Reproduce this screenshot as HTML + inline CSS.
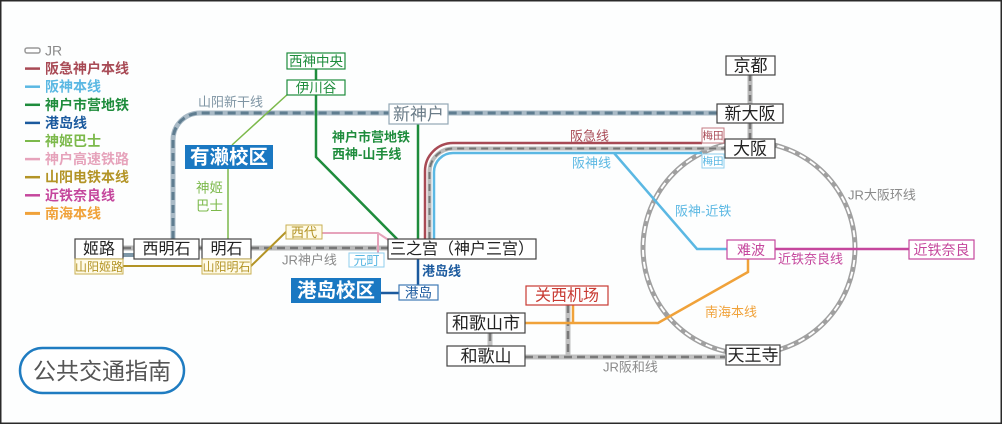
<!DOCTYPE html>
<html><head><meta charset="utf-8">
<style>
html,body{margin:0;padding:0;background:#fff;}
svg{display:block;}
text{font-family:"Liberation Sans","Noto Sans CJK SC",sans-serif;}
</style></head>
<body>
<svg width="1002" height="425" viewBox="0 0 1002 425" xmlns="http://www.w3.org/2000/svg">
<rect x="0" y="0" width="1002" height="425" fill="#fdfefe"/>
<rect x="0.75" y="0.75" width="1000.5" height="422.5" fill="none" stroke="#2a2a2a" stroke-width="1.5"/>

<!-- Legend -->
<g font-size="14" font-weight="bold">
<rect x="25" y="48" width="15" height="5" rx="2" fill="#fff" stroke="#999" stroke-width="1.5"/>
<text x="45" y="55.5" fill="#8a8a8a" font-weight="normal">JR</text>
<line x1="25" y1="68.6" x2="40" y2="68.6" stroke="#a84a55" stroke-width="2.5"/>
<text x="45" y="73.6" fill="#a84a55">阪急神户本线</text>
<line x1="25" y1="86.7" x2="40" y2="86.7" stroke="#5bb8e3" stroke-width="2.5"/>
<text x="45" y="91.7" fill="#5bb8e3">阪神本线</text>
<line x1="25" y1="104.8" x2="40" y2="104.8" stroke="#1e8c3c" stroke-width="2.5"/>
<text x="45" y="109.8" fill="#1e8c3c">神户市营地铁</text>
<line x1="25" y1="122.9" x2="40" y2="122.9" stroke="#1b5a9e" stroke-width="2.5"/>
<text x="45" y="127.9" fill="#1b5a9e">港岛线</text>
<line x1="25" y1="141" x2="40" y2="141" stroke="#7cb94b" stroke-width="2"/>
<text x="45" y="146" fill="#7cb94b">神姬巴士</text>
<line x1="25" y1="159.1" x2="40" y2="159.1" stroke="#e6a3bb" stroke-width="2.5"/>
<text x="45" y="164.1" fill="#e6a3bb">神户高速铁路</text>
<line x1="25" y1="177.2" x2="40" y2="177.2" stroke="#b39426" stroke-width="2.5"/>
<text x="45" y="182.2" fill="#b39426">山阳电铁本线</text>
<line x1="25" y1="195.3" x2="40" y2="195.3" stroke="#c5479d" stroke-width="2.5"/>
<text x="45" y="200.3" fill="#c5479d">近铁奈良线</text>
<line x1="25" y1="213.4" x2="40" y2="213.4" stroke="#f0a23a" stroke-width="3"/>
<text x="45" y="218.4" fill="#f0a23a">南海本线</text>
</g>

<!-- JR Osaka loop -->
<circle cx="749" cy="248" r="106" fill="none" stroke="#a0a0a0" stroke-width="5"/>
<circle cx="749" cy="248" r="106" fill="none" stroke="#fff" stroke-width="2" stroke-dasharray="7 5"/>

<!-- Sanyo Shinkansen -->
<g fill="none">
<path d="M173 239 V140 A27 27 0 0 1 200 113 H717" stroke="#a9bac6" stroke-width="5"/>
<path d="M173 239 V140 A27 27 0 0 1 200 113 H717" stroke="#5f7d90" stroke-width="3" stroke-dasharray="8 5"/>
<path d="M123 255 H134" stroke="#7d97a8" stroke-width="4"/>
</g>

<!-- JR lines -->
<g fill="none">
<path id="jr1" d="M123 248 H134 M199 248 H202 M251 248 H388" stroke="#b8b8b8" stroke-width="5"/>
<path d="M123 248 H134 M199 248 H202 M251 248 H388" stroke="#777" stroke-width="2.5" stroke-dasharray="8 5"/>
<path d="M750 75 V104 M750 123 V139" stroke="#b8b8b8" stroke-width="5"/>
<path d="M750 75 V104 M750 123 V139" stroke="#777" stroke-width="2.5" stroke-dasharray="6 4"/>
<path d="M525 357 H725 M568 305 V357 M490 333 V346" stroke="#c0c0c0" stroke-width="5"/>
<path d="M525 357 H725 M568 305 V357 M490 333 V346" stroke="#7a7a7a" stroke-width="2.5" stroke-dasharray="8 5"/>
</g>

<!-- Hankyu / JR Kobe / Hanshin curved trio -->
<g fill="none">
<path d="M425 239 V171 A28 28 0 0 1 453 143 H702" stroke="#a84a55" stroke-width="2.5"/>
<path d="M429.5 239 V172 A23.5 23.5 0 0 1 453 148.5 H725" stroke="#bbb" stroke-width="4"/>
<path d="M429.5 239 V172 A23.5 23.5 0 0 1 453 148.5 H725" stroke="#777" stroke-width="2" stroke-dasharray="7 5"/>
<path d="M434 239 V172 A19 19 0 0 1 453 153 H702" stroke="#5bb8e3" stroke-width="2.5"/>
<path d="M614 153 L697 249 H727" stroke="#5bb8e3" stroke-width="2.5"/>
</g>

<!-- Kintetsu Nara -->
<line x1="775" y1="249" x2="909" y2="249" stroke="#c5479d" stroke-width="2.5"/>

<!-- Nankai -->
<path d="M525 323 H658 L748 272 V259 M573 305 V323" fill="none" stroke="#f0a23a" stroke-width="2.5"/>

<!-- Kobe subway -->
<path d="M316 69 V80 M316 95 V157 L398 240 M418 124 V239" fill="none" stroke="#1e8c3c" stroke-width="2.5"/>

<!-- Port liner -->
<path d="M418 259 V285 M381 293 H399" fill="none" stroke="#1b5a9e" stroke-width="2.5"/>

<!-- Kobe Kosoku (pink) -->
<path d="M322 233 H378 L390 241 M378 233 V253" fill="none" stroke="#e6a3bb" stroke-width="2"/>

<!-- Sanyo electric (olive) -->
<path d="M123 266 H202 M251 266 L287 231" fill="none" stroke="#b39426" stroke-width="2"/>

<!-- Shinki bus -->
<path d="M289 93 L232 145 M228 169 V239" fill="none" stroke="#7cb94b" stroke-width="1.5"/>

<!-- Station boxes -->
<g font-size="16" fill="#222" text-anchor="middle" dominant-baseline="central">
<rect x="75" y="239" width="48" height="20" fill="#fff" stroke="#444" stroke-width="1.2"/>
<text x="99" y="249.5">姬路</text>
<rect x="134" y="239" width="65" height="20" fill="#fff" stroke="#444" stroke-width="1.2"/>
<text x="166.5" y="249.5">西明石</text>
<rect x="202" y="239" width="49" height="20" fill="#fff" stroke="#444" stroke-width="1.2"/>
<text x="226.5" y="249.5">明石</text>
<rect x="388" y="239" width="148" height="20" fill="#fff" stroke="#444" stroke-width="1.2"/>
<text x="462" y="249.5">三之宫（神户三宫）</text>
<rect x="726" y="56" width="49" height="19" fill="#fff" stroke="#444" stroke-width="1.2"/>
<text x="750.5" y="66" font-size="17">京都</text>
<rect x="717" y="104" width="66" height="19" fill="#fff" stroke="#444" stroke-width="1.2"/>
<text x="750" y="114" font-size="17">新大阪</text>
<rect x="725" y="139" width="50" height="19" fill="#fff" stroke="#444" stroke-width="1.2"/>
<text x="750" y="149" font-size="17">大阪</text>
<rect x="447" y="313" width="78" height="20" fill="#fff" stroke="#444" stroke-width="1.2"/>
<text x="486" y="323.5" font-size="17">和歌山市</text>
<rect x="447" y="346" width="78" height="20" fill="#fff" stroke="#444" stroke-width="1.2"/>
<text x="486" y="356.5" font-size="17">和歌山</text>
<rect x="726" y="345" width="54" height="20" fill="#fff" stroke="#444" stroke-width="1.2"/>
<text x="753" y="355.5" font-size="17">天王寺</text>
<rect x="389" y="104" width="59" height="20" fill="#fff" stroke="#93a7b5" stroke-width="1.2"/>
<text x="418.5" y="114.5" font-size="17" fill="#6b7c88">新神户</text>
<rect x="526" y="286" width="82" height="19" fill="#fff" stroke="#c83a32" stroke-width="1.2"/>
<text x="567" y="296" font-size="16" fill="#c83a32">关西机场</text>
</g>

<g text-anchor="middle" dominant-baseline="central">
<rect x="75" y="259" width="48" height="15" fill="#fffbe8" stroke="#c9b054" stroke-width="1"/>
<text x="99" y="267" font-size="12" fill="#b39426">山阳姬路</text>
<rect x="202" y="259" width="49" height="15" fill="#fffbe8" stroke="#c9b054" stroke-width="1"/>
<text x="226.5" y="267" font-size="12" fill="#b39426">山阳明石</text>
<rect x="286" y="225" width="36" height="14" fill="#fffbe8" stroke="#c9b054" stroke-width="1"/>
<text x="304" y="232.5" font-size="13" fill="#b39426">西代</text>
<rect x="349" y="253" width="35" height="14" fill="#fff" stroke="#8fcfed" stroke-width="1"/>
<text x="366.5" y="260.5" font-size="13" fill="#5bb8e3">元町</text>
<rect x="287" y="53" width="58" height="16" fill="#fff" stroke="#1e8c3c" stroke-width="1.2"/>
<text x="316" y="61.5" font-size="13.5" fill="#1e8c3c">西神中央</text>
<rect x="287" y="80" width="58" height="15" fill="#fff" stroke="#1e8c3c" stroke-width="1.2"/>
<text x="316" y="88" font-size="13.5" fill="#1e8c3c">伊川谷</text>
<rect x="399" y="285" width="39" height="15" fill="#fff" stroke="#3f7ab5" stroke-width="1.2"/>
<text x="418.5" y="293" font-size="13.5" fill="#1b5a9e">港岛</text>
<rect x="702" y="128" width="22" height="15" fill="#fff" stroke="#c47a82" stroke-width="1"/>
<text x="713" y="135.8" font-size="10.5" fill="#a84a55">梅田</text>
<rect x="702" y="154" width="22" height="14" fill="#fff" stroke="#8fcfed" stroke-width="1"/>
<text x="713" y="161.3" font-size="10.5" fill="#5bb8e3">梅田</text>
<rect x="727" y="240" width="48" height="19" fill="#fff" stroke="#c5479d" stroke-width="1.2"/>
<text x="751" y="250" font-size="14" fill="#c5479d">难波</text>
<rect x="909" y="240" width="65" height="19" fill="#fff" stroke="#c5479d" stroke-width="1.2"/>
<text x="941.5" y="250" font-size="14" fill="#c5479d">近铁奈良</text>
</g>

<!-- Campus boxes -->
<rect x="185" y="145" width="88" height="24" fill="#1a78c2"/>
<text x="229" y="157.5" font-size="19.5" font-weight="bold" fill="#fff" text-anchor="middle" dominant-baseline="central">有濑校区</text>
<rect x="291" y="278" width="90" height="25" fill="#1a78c2"/>
<text x="336" y="291" font-size="19.5" font-weight="bold" fill="#fff" text-anchor="middle" dominant-baseline="central">港岛校区</text>

<!-- Line labels -->
<g dominant-baseline="central">
<text x="198" y="102" font-size="13" fill="#7f95a4">山阳新干线</text>
<text x="196" y="188" font-size="13.5" fill="#7cb94b">神姬</text>
<text x="196" y="206" font-size="13.5" fill="#7cb94b">巴士</text>
<text x="332" y="137" font-size="13" font-weight="bold" fill="#1e8c3c">神户市营地铁</text>
<text x="332" y="154" font-size="13" font-weight="bold" fill="#1e8c3c">西神-山手线</text>
<text x="282" y="260" font-size="13" fill="#8a8a8a">JR神户线</text>
<text x="422" y="271" font-size="13" font-weight="bold" fill="#1b5a9e">港岛线</text>
<text x="570" y="136" font-size="13" fill="#a84a55">阪急线</text>
<text x="572" y="163" font-size="13" fill="#5bb8e3">阪神线</text>
<text x="675" y="211" font-size="13" fill="#5bb8e3">阪神-近铁</text>
<text x="848" y="195" font-size="13" fill="#8a8a8a">JR大阪环线</text>
<text x="778" y="259" font-size="13" fill="#c5479d">近铁奈良线</text>
<text x="705" y="312" font-size="13" fill="#f0a23a">南海本线</text>
<text x="603" y="367" font-size="13" fill="#8a8a8a">JR阪和线</text>
</g>

<!-- Guide pill -->
<rect x="20" y="348" width="164" height="45" rx="22.5" fill="#fff" stroke="#1f7cc1" stroke-width="2.5"/>
<text x="102" y="371" font-size="23" fill="#555" text-anchor="middle" dominant-baseline="central">公共交通指南</text>
</svg>
</body></html>
